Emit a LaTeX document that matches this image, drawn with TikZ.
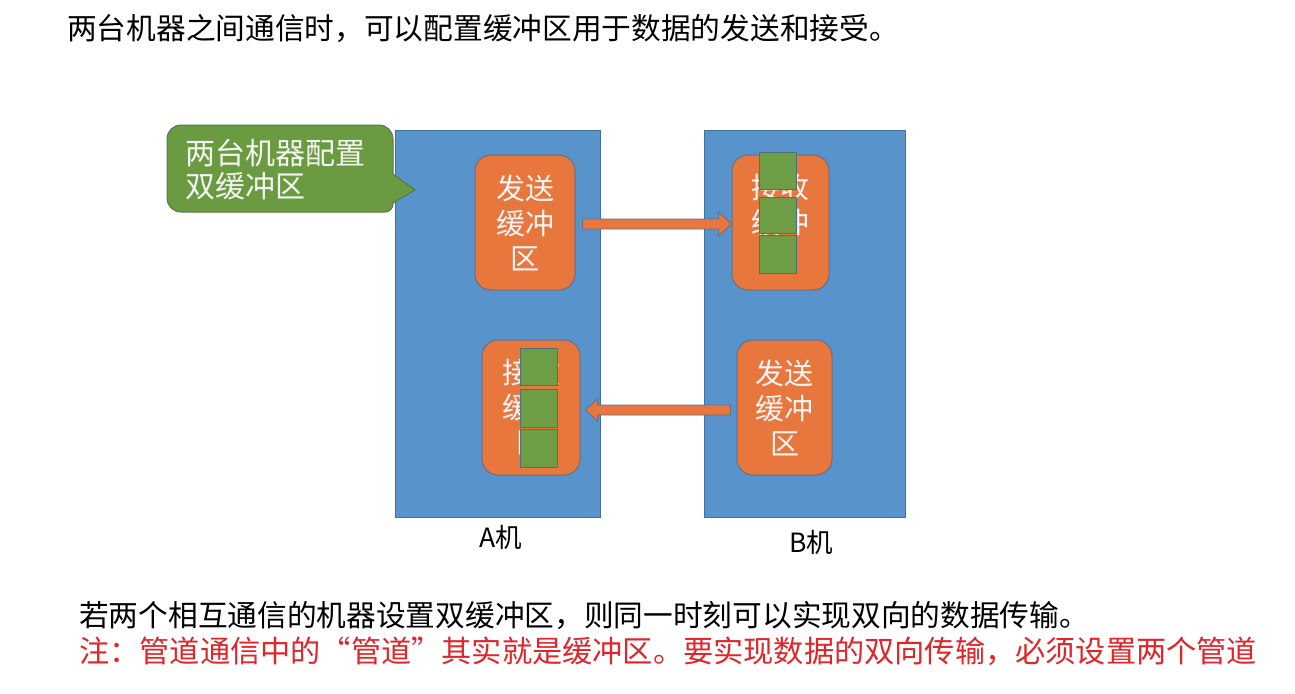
\documentclass[tikz,border=0pt]{standalone}
\usepackage{fontspec}
\setmainfont{Noto Sans CJK SC}
\usetikzlibrary{calc}
\definecolor{boxblue}{HTML}{5893CC}
\definecolor{boxblueline}{HTML}{41719C}
\definecolor{buforange}{HTML}{E8773D}
\definecolor{bufline}{HTML}{6B6E80}
\definecolor{calgreen}{HTML}{6A9B40}
\definecolor{calline}{HTML}{55784A}
\definecolor{sqgreen}{HTML}{6D9E45}
\definecolor{sqline}{HTML}{4F6E7E}
\definecolor{lighttext}{HTML}{F4F4F4}
\definecolor{notered}{HTML}{E0262B}
\begin{document}
\begin{tikzpicture}[x=1pt,y=-1pt,
  machine/.style={draw=boxblueline, fill=boxblue, line width=1pt, anchor=north west, inner sep=0pt, minimum width=205pt, minimum height=387pt},
  bufbox/.style={draw=bufline, fill=buforange, line width=1pt, rounded corners=16pt, inner sep=0pt, minimum height=135pt, align=center, text=lighttext, font=\fontsize{29}{35}\selectfont},
  sq/.style={draw=sqline, fill=sqgreen, line width=1pt, inner sep=0pt, minimum width=37pt},
  flowarrow/.style={draw=bufline, fill=buforange, line width=0.8pt, line join=miter},
  bigtext/.style={anchor=base west, inner sep=0pt, font=\fontsize{29.7}{30}\selectfont},
  label/.style={inner sep=0pt, font=\fontsize{26.5}{27}\selectfont}
]
\useasboundingbox (0,0) rectangle (1295,693);
\fill[white] (0,0) rectangle (1295,693);

% title
\node[bigtext] (title) at (67,39.8) {两台机器之间通信时，可以配置缓冲区用于数据的发送和接受。};

% machines
\node[machine] (ma) at (395,130) {};
\node[machine, minimum width=201pt] (mb) at (704,130) {};

% buffers
\node[bufbox, minimum width=100pt] (sa) at (525,222.5) {发送\\缓冲\\区};
\node[bufbox, minimum width=97pt] (rb) at (780.5,222.5) {接收\\缓冲\\区};
\node[bufbox, minimum width=98pt] (ra) at (531,407.5) {接收\\缓冲\\区};
\node[bufbox, minimum width=95pt] (sb) at (784.5,407.5) {发送\\缓冲\\区};

% green blocks in B receive buffer
\node[sq, minimum height=37pt] (gb1) at (777.5,170.5) {};
\node[sq, minimum height=36pt] (gb2) at (777.5,215) {};
\node[sq, minimum height=38pt] (gb3) at (777.5,254) {};
% green blocks in A receive buffer
\node[sq, minimum height=37pt] (ga1) at (538.5,366.5) {};
\node[sq, minimum height=38pt] (ga2) at (538.5,408) {};
\node[sq, minimum height=38pt] (ga3) at (538.5,448) {};

% arrows
\coordinate (t1) at ($(sa.east |- 0,224)+(7,0)$);
\coordinate (h1) at (rb.west |- t1);
\path[flowarrow] let \p1=(t1), \p2=(h1) in
  (\x1,\y1+5pt) -- (\x2-13pt,\y1+5pt) -- (\x2-13pt,\y1+12pt) -- (\x2,\y2)
  -- (\x2-13pt,\y1-12pt) -- (\x2-13pt,\y1-5pt) -- (\x1,\y1-5pt) -- cycle;

\coordinate (t2) at ($(sb.west |- 0,410)+(-6,0)$);
\coordinate (h2) at ($(ra.east |- t2)+(5,0)$);
\path[flowarrow] let \p1=(t2), \p2=(h2) in
  (\x1,\y1+5pt) -- (\x2+12pt,\y1+5pt) -- (\x2+12pt,\y1+11pt) -- (\x2,\y2)
  -- (\x2+12pt,\y1-11pt) -- (\x2+12pt,\y1-5pt) -- (\x1,\y1-5pt) -- cycle;

% callout
\path[draw=calline, fill=calgreen, line width=1pt]
  (181,125) -- (379,125) .. controls (386.7,125) and (393,131.3) .. (393,139)
  -- (393,174) -- (415,190) -- (393,203) -- (393,204)
  .. controls (393,208.4) and (389.4,212) .. (385,212)
  -- (181,212) .. controls (173.3,212) and (167,205.7) .. (167,198)
  -- (167,139) .. controls (167,131.3) and (173.3,125) .. (181,125) -- cycle;
\node[inner sep=0pt, align=left, text=lighttext, font=\fontsize{30}{33}\selectfont] (cal) at (275,169.5) {两台机器配置\\双缓冲区};

% labels
\node[label] (la) at (501,537) {A机};
\node[label] (lb) at (811,542) {B机};

% bottom text
\node[bigtext] (line1) at (79,626.3) {若两个相互通信的机器设置双缓冲区，则同一时刻可以实现双向的数据传输。};
\node[bigtext, text=notered, font=\fontsize{30.2}{31}\selectfont] (line2) at (79,662.8) {注：管道通信中的“管道”其实就是缓冲区。要实现数据的双向传输，必须设置两个管道};
\end{tikzpicture}
\end{document}
